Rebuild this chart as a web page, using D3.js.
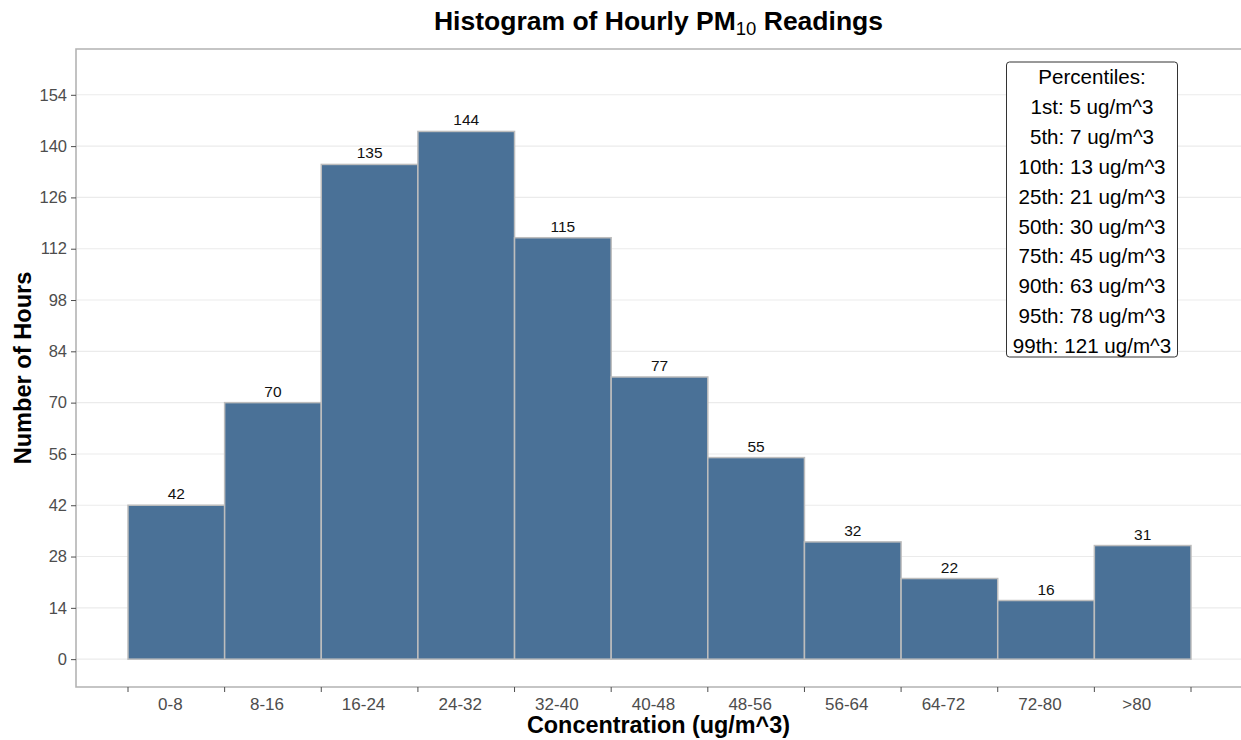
<!DOCTYPE html>
<html>
<head>
<meta charset="utf-8">
<script src="https://cdn.jsdelivr.net/npm/d3@7"></script>
<style>
  html, body { margin: 0; padding: 0; background: #fff; }
  svg { display: block; font-family: "Liberation Sans", Arial, sans-serif; }
</style>
</head>
<body>
<svg id="chart" width="1241" height="740"></svg>
<script>
// ---- data ----
const binLabels = ["0-8", "8-16", "16-24", "24-32", "32-40", "40-48", "48-56", "56-64", "64-72", "72-80", ">80"];
const counts = [42, 70, 135, 144, 115, 77, 55, 32, 22, 16, 31];
const yTicks = [0, 14, 28, 42, 56, 70, 84, 98, 112, 126, 140, 154];
const percentileNames = ["1st", "5th", "10th", "25th", "50th", "75th", "90th", "95th", "99th"];
const percentileValues = [5, 7, 13, 21, 30, 45, 63, 78, 121];

// ---- layout ----
const W = 1241, H = 740;
const panel = { left: 76, top: 49, right: 1243, bottom: 687 };
const svg = d3.select("#chart");

const x = d3.scaleBand().domain(binLabels).range([128, 1191]).padding(0);
const y = d3.scaleLinear().domain([-7.6, 166.5]).range([panel.bottom, panel.top]);

// grid lines
svg.append("g").selectAll("line").data(yTicks).join("line")
  .attr("x1", panel.left).attr("x2", panel.right)
  .attr("y1", d => y(d)).attr("y2", d => y(d))
  .attr("stroke", "#ebebeb").attr("stroke-width", 1.1);

// bars
svg.append("g").selectAll("rect").data(counts).join("rect")
  .attr("x", (d, i) => x(binLabels[i]))
  .attr("y", d => y(d))
  .attr("width", x.bandwidth())
  .attr("height", d => y(0) - y(d))
  .attr("fill", "#4a7197")
  .attr("stroke", "#bdbdbd").attr("stroke-width", 1.5);

// bar value labels
svg.append("g").selectAll("text").data(counts).join("text")
  .attr("x", (d, i) => x(binLabels[i]) + x.bandwidth() / 2)
  .attr("y", d => y(d) - 6)
  .attr("text-anchor", "middle")
  .attr("font-size", 15.5)
  .attr("fill", "#111")
  .text(d => d);

// panel border (left, top, bottom)
svg.append("path")
  .attr("d", `M${panel.right},${panel.top}H${panel.left}V${panel.bottom}H${panel.right}`)
  .attr("fill", "none").attr("stroke", "#b3b3b3").attr("stroke-width", 1.6);

// y axis
const yAxis = d3.axisLeft(y).tickValues(yTicks).tickSize(5).tickPadding(4);
const gy = svg.append("g").attr("transform", `translate(${panel.left},0)`).call(yAxis);
gy.select(".domain").remove();
gy.selectAll(".tick line").attr("stroke", "#4d4d4d").attr("stroke-width", 1);
gy.selectAll(".tick text").attr("font-size", 16.5).attr("fill", "#4d4d4d")
  .attr("font-family", "Liberation Sans, Arial, sans-serif");

// x axis: ticks at bin edges
const edges = binLabels.map(l => x(l)).concat([x(binLabels[binLabels.length - 1]) + x.bandwidth()]);
const gx = svg.append("g");
gx.selectAll("line").data(edges).join("line")
  .attr("x1", d => d).attr("x2", d => d)
  .attr("y1", panel.bottom).attr("y2", panel.bottom + 5)
  .attr("stroke", "#4d4d4d").attr("stroke-width", 1);
gx.selectAll("text").data(binLabels).join("text")
  .attr("x", d => x(d) + x.bandwidth() / 2 - 6)
  .attr("y", 710)
  .attr("text-anchor", "middle")
  .attr("font-size", 17)
  .attr("fill", "#4d4d4d")
  .text(d => d);

// title
const title = svg.append("text")
  .attr("x", (panel.left + panel.right) / 2 - 1).attr("y", 30)
  .attr("text-anchor", "middle")
  .attr("font-size", 26.5).attr("font-weight", "bold").attr("fill", "#000");
title.append("tspan").text("Histogram of Hourly PM");
title.append("tspan").attr("font-size", 18.5).attr("font-weight", "normal").attr("dy", 5).text("10");
title.append("tspan").attr("dy", -5).text(" Readings");

// axis titles
svg.append("text")
  .attr("x", (panel.left + panel.right) / 2 - 1).attr("y", 733)
  .attr("text-anchor", "middle")
  .attr("font-size", 23.4).attr("font-weight", "bold").attr("fill", "#000")
  .text("Concentration (ug/m^3)");
svg.append("text")
  .attr("transform", `translate(31,${(panel.top + panel.bottom) / 2}) rotate(-90)`)
  .attr("text-anchor", "middle")
  .attr("font-size", 23.6).attr("font-weight", "bold").attr("fill", "#000")
  .text("Number of Hours");

// percentiles box
const boxLines = ["Percentiles:"].concat(percentileNames.map((n, i) => `${n}: ${percentileValues[i]} ug/m^3`));
const box = svg.append("g");
box.append("rect")
  .attr("x", 1006.5).attr("y", 62).attr("width", 171).attr("height", 295)
  .attr("rx", 3).attr("ry", 3)
  .attr("fill", "#fff").attr("stroke", "#333").attr("stroke-width", 1);
box.selectAll("text").data(boxLines).join("text")
  .attr("x", 1092)
  .attr("y", (d, i) => 84 + i * 29.9)
  .attr("text-anchor", "middle")
  .attr("font-size", 20.6)
  .attr("fill", "#000")
  .text(d => d);
</script>
</body>
</html>
